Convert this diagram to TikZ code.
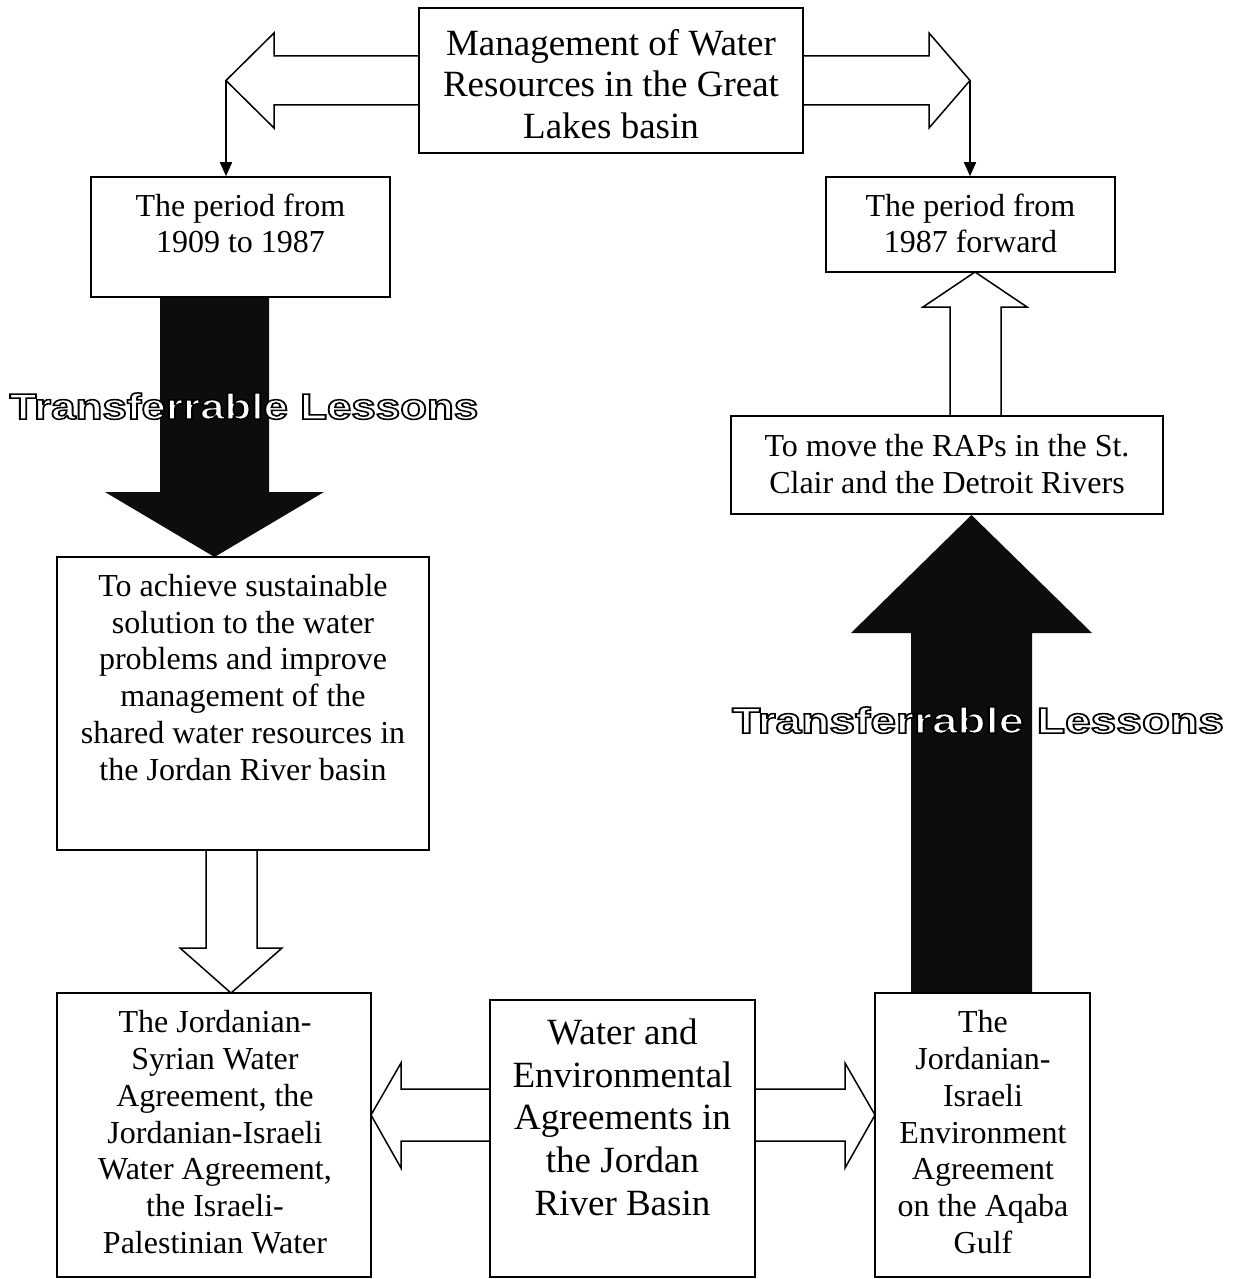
\documentclass[tikz,border=0pt]{standalone}
\usepackage{fontspec}
\usepackage{graphicx}
\setmainfont{Liberation Serif}
\newfontfamily\lessonfont{Liberation Sans}
\usetikzlibrary{calc,arrows.meta}
\newcommand{\fsz}[2]{\fontsize{#1}{#2}\selectfont}
\newcommand{\tstrut}{\rule{0pt}{0.8em}}
\newcommand{\lessontext}[1]{\scalebox{#1}[1]{\special{pdf:literal direct 0 G 2 Tr 1.5 w}Transferrable Lessons\special{pdf:literal direct 0 Tr 1 w}}}
\begin{document}
\begin{tikzpicture}[x=1pt,y=-1pt,line join=miter,
  box/.style={draw,line width=1.6pt,fill=white,inner sep=0pt},
  txt/.style={align=center,inner sep=0pt,anchor=north},
  wa/.style={draw,line width=1.5pt,fill=white},
  ba/.style={fill=black!95},
  thinarrow/.style={line width=1.5pt,-{Triangle[length=14pt,width=12pt]}},
  lesson/.style={inner sep=0pt,anchor=base,text=white,font=\lessonfont\bfseries\fsz{36}{40}}]
\useasboundingbox (0,0) rectangle (1243,1279);
\fill[white] (0,0) rectangle (1243,1279);

% coordinates of arrow tips
\coordinate (tTL) at (226,80.5);
\coordinate (tTR) at (970,80.5);
\coordinate (tBL) at (214.5,557);
\coordinate (tBR) at (971.5,515);
\coordinate (tUP) at (975,272);
\coordinate (tDN) at (231,993);
\coordinate (tML) at (371,1115);
\coordinate (tMR) at (875,1115);

% block arrows
\fill[ba] (160,297) -- (160,492) -- (105,492) -- (tBL) -- (324,492) -- (269,492) -- (269,297) -- cycle;
\fill[ba] (911,993) -- (911,633) -- (851,633) -- (tBR) -- (1092,633) -- (1032,633) -- (1032,993) -- cycle;
\draw[wa] (950,416) -- (950,307) -- (923,307) -- (tUP) -- (1027,307) -- (1001,307) -- (1001,416);
\draw[wa] (206,850) -- (206,948) -- (180,948) -- (tDN) -- (282,948) -- (257,948) -- (257,850);
\draw[wa] (490,1089) -- (401,1089) -- (401,1063) -- (tML) -- (401,1168) -- (401,1141) -- (490,1141);
\draw[wa] (755,1089) -- (845,1089) -- (845,1063) -- (tMR) -- (845,1168) -- (845,1141) -- (755,1141);
\draw[wa] (419,56) -- (274,56) -- (274,33) -- (tTL) -- (274,128) -- (274,105) -- (419,105);
\draw[wa] (803,56) -- (929,56) -- (929,33) -- (tTR) -- (929,128) -- (929,105) -- (803,105);

% boxes
\node[box,minimum width=384pt,minimum height=145pt] (top) at (611,80.5) {};
\node[box,minimum width=299pt,minimum height=120pt] (pL) at (240.5,237) {};
\node[box,minimum width=289pt,minimum height=95pt] (pR) at (970.5,224.5) {};
\node[box,minimum width=372pt,minimum height=293pt] (goal) at (243,703.5) {};
\node[box,minimum width=432pt,minimum height=98pt] (raps) at (947,465) {};
\node[box,minimum width=314pt,minimum height=284pt] (bl) at (214,1135) {};
\node[box,minimum width=265pt,minimum height=277pt] (bm) at (622.5,1138.5) {};
\node[box,minimum width=215pt,minimum height=284pt] (br) at (982.5,1135) {};

% thin connectors
\draw[thinarrow] (tTL) -- (tTL |- pL.north);
\draw[thinarrow] (tTR) -- (tTR |- pR.north);

% texts
\node[txt,font=\fsz{37}{41.5}] (topT) at (611,25.4) {\tstrut Management of Water\\Resources in the Great\\Lakes basin};
\node[txt,font=\fsz{32}{36}] (pLT) at (240.5,191.1) {\tstrut The period from\\1909 to 1987};
\node[txt,font=\fsz{32}{36}] (pRT) at (970.5,191.1) {\tstrut The period from\\1987 forward};
\node[txt,font=\fsz{32}{36.8}] (goalT) at (243,570.4) {\tstrut To achieve sustainable\\solution to the water\\problems and improve\\management of the\\shared water resources in\\the Jordan River basin};
\node[txt,font=\fsz{32}{36.5}] (rapsT) at (947,431.1) {\tstrut To move the RAPs in the St.\\Clair and the Detroit Rivers};
\node[txt,font=\fsz{32}{36.7}] (blT) at (215,1007.1) {\tstrut The Jordanian-\\Syrian Water\\Agreement, the\\Jordanian-Israeli\\Water Agreement,\\the Israeli-\\Palestinian Water};
\node[txt,font=\fsz{37}{42.8}] (bmT) at (622.5,1014.4) {\tstrut Water and\\Environmental\\Agreements in\\the Jordan\\River Basin};
\node[txt,font=\fsz{32}{36.7}] (brT) at (983,1007.1) {\tstrut The\\Jordanian-\\Israeli\\Environment\\Agreement\\on the Aqaba\\Gulf};

% outlined lesson labels
\node[lesson] (lessonL) at (244,419) {\lessontext{1.22}};
\node[lesson] (lessonR) at (978,733) {\lessontext{1.28}};
\end{tikzpicture}
\end{document}
